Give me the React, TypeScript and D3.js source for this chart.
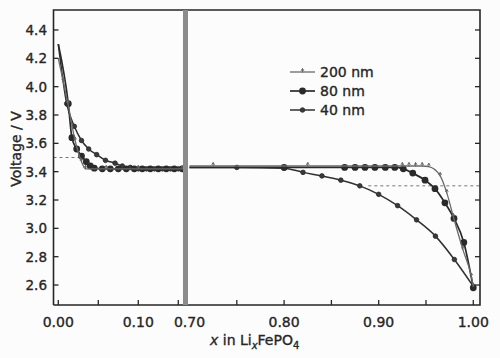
import React from "react";
import * as d3 from "d3";

// ---------- data ----------
const yTicks = [2.6, 2.8, 3.0, 3.2, 3.4, 3.6, 3.8, 4.0, 4.2, 4.4];
const leftTicks = [0, 0.05, 0.1, 0.15];
const leftTickLabels = ["0.00", "", "0.10", ""];
const rightTicks = [0.75, 0.8, 0.85, 0.9, 0.95, 1.0];
const rightTickLabels = ["", "0.80", "", "0.90", "", "1.00"];
const breakLabel = "0.70";

const seriesNames = ["200 nm", "80 nm", "40 nm"];

// left panel (0 – 0.15)
const left200X = [0, 0.006, 0.012, 0.021, 0.029, 0.034, 0.06, 0.1, 0.155];
const left200V = [4.2, 4.04, 3.88, 3.62, 3.47, 3.42, 3.42, 3.42, 3.42];
const left80X = [0, 0.0125, 0.017, 0.023, 0.029, 0.035, 0.04, 0.045, 0.055, 0.065, 0.075, 0.085, 0.095, 0.105, 0.115, 0.125, 0.135, 0.145, 0.155];
const left80V = [4.3, 3.88, 3.64, 3.56, 3.51, 3.47, 3.44, 3.425, 3.42, 3.42, 3.42, 3.42, 3.42, 3.42, 3.42, 3.42, 3.42, 3.42, 3.42];
const left40X = [0, 0.0105, 0.02, 0.029, 0.038, 0.048, 0.059, 0.071, 0.08, 0.09, 0.1, 0.11, 0.12, 0.13, 0.14, 0.15];
const left40V = [4.3, 3.88, 3.72, 3.62, 3.56, 3.52, 3.48, 3.46, 3.44, 3.43, 3.42, 3.42, 3.42, 3.42, 3.42, 3.42];

// right panel (0.70 – 1.00)
const right200X = [0.7, 0.725, 0.825, 0.925, 0.932, 0.939, 0.946, 0.953, 0.965, 0.972, 0.979, 0.989, 0.998, 1.0];
const right200V = [3.44, 3.44, 3.44, 3.44, 3.44, 3.44, 3.44, 3.435, 3.37, 3.25, 3.08, 2.85, 2.66, 2.59];
const right80X = [0.7, 0.8, 0.864, 0.875, 0.8855, 0.896, 0.907, 0.917, 0.926, 0.936, 0.949, 0.9595, 0.97, 0.9796, 0.99, 1.0];
const right80V = [3.43, 3.43, 3.43, 3.43, 3.43, 3.43, 3.43, 3.43, 3.42, 3.39, 3.34, 3.28, 3.18, 3.07, 2.9, 2.58];
const right40X = [0.7, 0.75, 0.8, 0.82, 0.84, 0.86, 0.88, 0.9, 0.92, 0.94, 0.96, 0.98, 1.0];
const right40V = [3.43, 3.43, 3.425, 3.395, 3.37, 3.34, 3.3, 3.24, 3.16, 3.06, 2.945, 2.78, 2.59];

// reference (dotted) levels
const leftRefV = 3.5;
const leftRefX = [-0.006, 0.03];
const rightRefV = 3.3;
const rightRefX = [0.889, 1.007];

// ---------- layout ----------
const W = 500, H = 358;
const top = 10, bottom = 305;
const lx0 = 53.5, lx1 = 183;
const rx0 = 188, rx1 = 480;

const y = d3.scaleLinear().domain([2.459, 4.541]).range([bottom, top]);
const xl = d3.scaleLinear().domain([-0.006, 0.1559]).range([lx0, lx1]);
const xr = d3.scaleLinear().domain([0.6984, 1.0071]).range([rx0, rx1]);

const zip = (xs: number[], vs: number[]) => xs.map((x, i) => [x, vs[i]] as [number, number]);

const FONT = "'DejaVu Sans', Arial, sans-serif";
const INK = "#262626";
const textStroke = { stroke: INK, strokeWidth: 0.35 };

function Marker({ kind, cx, cy }: { kind: number; cx: number; cy: number }) {
  if (kind === 0)
    return <path d={`M${cx},${cy + 0.5}V${cy - 3.5}M${cx - 1.4},${cy - 1.2}L${cx},${cy - 3.5}L${cx + 1.4},${cy - 1.2}`} stroke="#666" strokeWidth={1} fill="none" />;
  if (kind === 1) return <circle cx={cx} cy={cy} r={3.4} fill="#2a2a2a" />;
  return <circle cx={cx} cy={cy} r={2.3} fill="#3a3a3a" stroke="#2a2a2a" strokeWidth={0.8} />;
}

const lineStyles = [
  { stroke: "#6a6a6a", width: 1.3 },
  { stroke: "#2a2a2a", width: 1.7 },
  { stroke: "#303030", width: 1.5 },
];

function Series({ pts, xs, kind }: { pts: [number, number][]; xs: d3.ScaleLinear<number, number>; kind: number }) {
  const gen = d3.line<[number, number]>().x((d) => xs(d[0])).y((d) => y(d[1])).curve(d3.curveMonotoneX);
  return (
    <g>
      <path d={gen(pts) || ""} fill="none" stroke={lineStyles[kind].stroke} strokeWidth={lineStyles[kind].width} />
      {pts.slice(1).map((d, i) => (
        <Marker key={i} kind={kind} cx={xs(d[0])} cy={y(d[1])} />
      ))}
    </g>
  );
}

export default function App() {
  const leftSeries = [zip(left200X, left200V), zip(left80X, left80V), zip(left40X, left40V)];
  const rightSeries = [zip(right200X, right200V), zip(right80X, right80V), zip(right40X, right40V)];
  const legendY = [72, 91, 110];
  return (
    <svg width={W} height={H} style={{ position: "absolute", left: 0, top: 0, background: "#fcfcfd" }} fontFamily={FONT}>
      <defs>
        <clipPath id="cl"><rect x={lx0} y={top} width={lx1 - lx0} height={bottom - top} /></clipPath>
        <clipPath id="cr"><rect x={rx0} y={top} width={rx1 - rx0} height={bottom - top} /></clipPath>
      </defs>

      {/* dotted reference levels */}
      <line x1={xl(leftRefX[0])} x2={xl(leftRefX[1])} y1={y(leftRefV)} y2={y(leftRefV)} stroke="#777" strokeWidth={1} strokeDasharray="3,3" />
      <line x1={xr(rightRefX[0])} x2={xr(rightRefX[1])} y1={y(rightRefV)} y2={y(rightRefV)} stroke="#777" strokeWidth={1} strokeDasharray="3,3" />

      <g clipPath="url(#cl)">
        {[2, 1, 0].map((k) => <Series key={k} pts={leftSeries[k]} xs={xl} kind={k} />)}
      </g>
      <g clipPath="url(#cr)">
        {[2, 1, 0].map((k) => <Series key={k} pts={rightSeries[k]} xs={xr} kind={k} />)}
      </g>

      {/* frame */}
      <path d={`M${lx0},${bottom}V${top}H${rx1}V${bottom}H${lx0}`} fill="none" stroke={INK} strokeWidth={1.6} />
      <rect x={lx1} y={top} width={rx0 - lx1} height={bottom - top} fill="#8c8c8c" />

      {/* y ticks */}
      {yTicks.map((t) => (
        <g key={t}>
          <line x1={lx0} x2={lx0 + 5} y1={y(t)} y2={y(t)} stroke={INK} strokeWidth={1.3} />
          <line x1={rx1} x2={rx1 - 5} y1={y(t)} y2={y(t)} stroke={INK} strokeWidth={1.3} />
          <text x={47} y={y(t)} textAnchor="end" dominantBaseline="central" fontSize={13.5} fill={INK} {...textStroke}>{t.toFixed(1)}</text>
        </g>
      ))}

      {/* x ticks */}
      {leftTicks.map((t, i) => (
        <g key={"l" + t}>
          <line x1={xl(t)} x2={xl(t)} y1={bottom} y2={bottom - 5} stroke={INK} strokeWidth={1.3} />
          {leftTickLabels[i] && <text x={xl(t)} y={322} textAnchor="middle" dominantBaseline="central" fontSize={14} fill={INK} {...textStroke}>{leftTickLabels[i]}</text>}
        </g>
      ))}
      {rightTicks.map((t, i) => (
        <g key={"r" + t}>
          <line x1={xr(t)} x2={xr(t)} y1={bottom} y2={bottom - 5} stroke={INK} strokeWidth={1.3} />
          {rightTickLabels[i] && <text x={xr(t)} y={322} textAnchor="middle" dominantBaseline="central" fontSize={14} fill={INK} {...textStroke}>{rightTickLabels[i]}</text>}
        </g>
      ))}
      <text x={xr(0.7)} y={322} textAnchor="middle" dominantBaseline="central" fontSize={14} fill={INK} {...textStroke}>{breakLabel}</text>

      {/* axis titles */}
      <text transform={`translate(16,${149}) rotate(-90)`} textAnchor="middle" dominantBaseline="central" fontSize={14} fill={INK} {...textStroke}>Voltage / V</text>
      <text x={210} y={345} fontSize={14} fill={INK} {...textStroke}>
        <tspan fontStyle="italic">x</tspan>
        <tspan> in Li</tspan>
        <tspan fontStyle="italic" fontSize={10} dy={4}>x</tspan>
        <tspan dy={-4}>FePO</tspan>
        <tspan fontSize={10} dy={4}>4</tspan>
      </text>

      {/* legend */}
      {seriesNames.map((n, k) => (
        <g key={n}>
          <line x1={290} x2={315} y1={legendY[k]} y2={legendY[k]} stroke={lineStyles[k].stroke} strokeWidth={lineStyles[k].width} />
          <Marker kind={k} cx={302.5} cy={legendY[k]} />
          <text x={320} y={legendY[k]} dominantBaseline="central" fontSize={14} fill={INK} {...textStroke}>{n}</text>
        </g>
      ))}
    </svg>
  );
}
